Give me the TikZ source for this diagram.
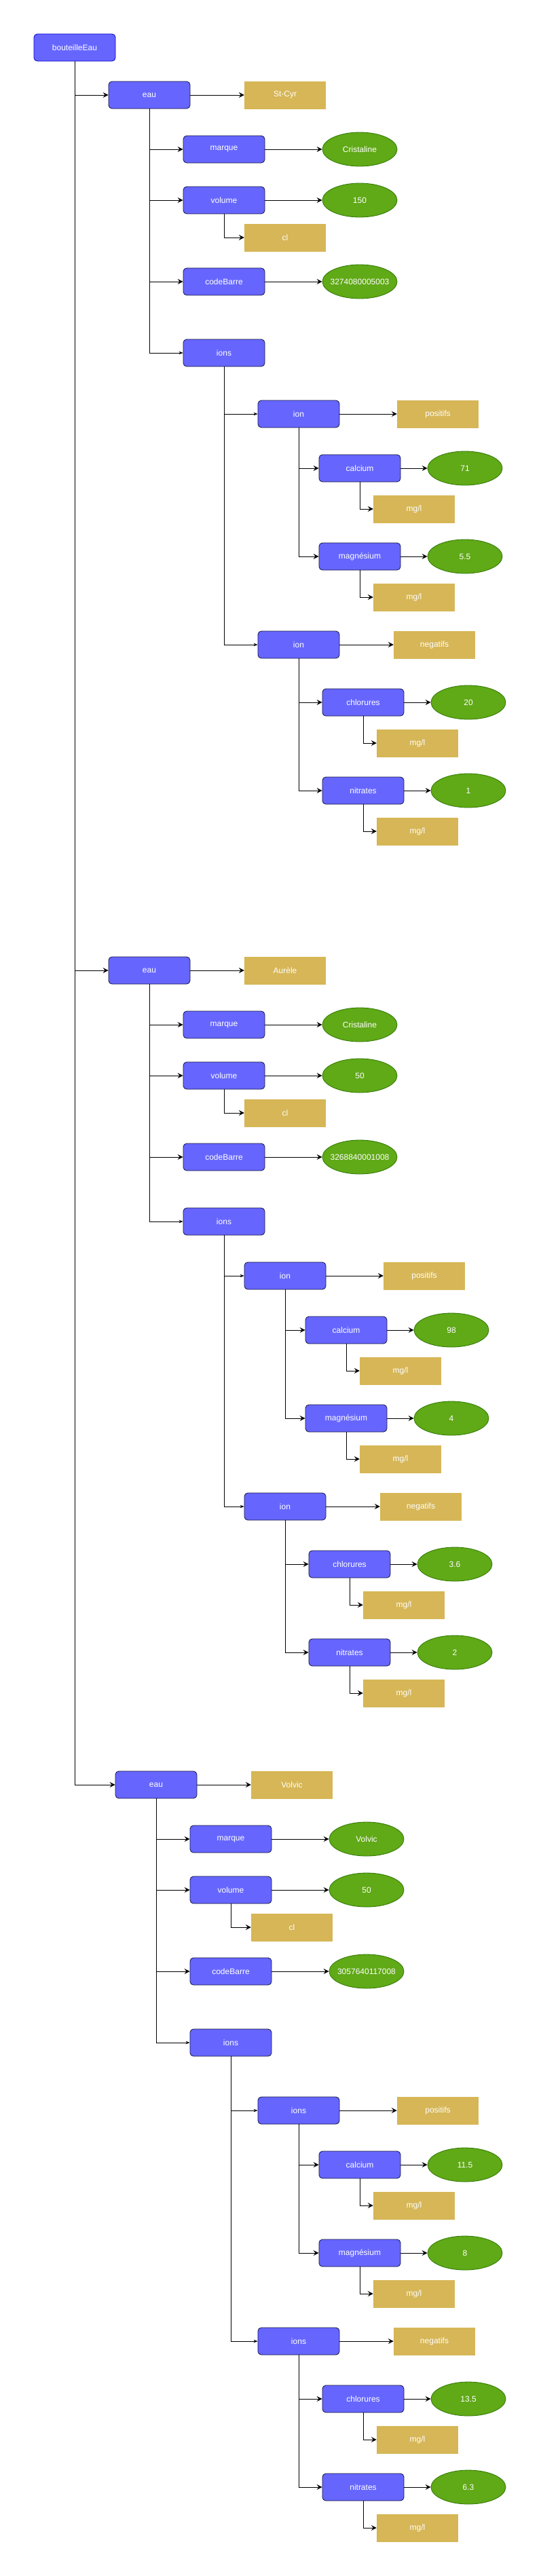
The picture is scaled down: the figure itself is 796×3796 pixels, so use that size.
\documentclass[tikz,border=0pt]{standalone}
\usepackage{fontspec}
\setmainfont{Liberation Sans}
\usetikzlibrary{shapes.geometric,arrows.meta}
\newcommand\EllTxt[1]{\makebox[0pt]{#1}}
\definecolor{blufill}{HTML}{6666FF}
\definecolor{bludraw}{HTML}{14143C}
\definecolor{rootdraw}{HTML}{0000CC}
\definecolor{goldfill}{HTML}{D6B656}
\definecolor{grnfill}{HTML}{60A917}
\definecolor{grndraw}{HTML}{2D7600}
\newcommand\GrpEdges[1]{%
 \draw[arr] (root.south) |- (eau#1.west);
 \draw[arr] (eau#1.east) -- (nom#1.west);
 \draw[arr] (eau#1.south) |- (marq#1.west);
 \draw[arr] (marq#1.east) -- (marqv#1.west);
 \draw[arr] (eau#1.south) |- (vol#1.west);
 \draw[arr] (vol#1.east) -- (volv#1.west);
 \draw[arr] (vol#1.south) |- (cl#1.west);
 \draw[arr] (eau#1.south) |- (code#1.west);
 \draw[arr] (code#1.east) -- (codev#1.west);
 \draw[arrs] (eau#1.south) |- (ions#1.west);
 \draw[arrs] (ions#1.south) |- (ionp#1.west);
 \draw[arr] (ionp#1.east) -- (pos#1.west);
 \draw[arr] (ionp#1.south) |- (ca#1.west);
 \draw[arr] (ca#1.east) -- (cav#1.west);
 \draw[arr] (ca#1.south) |- (caU#1.west);
 \draw[arr] (ionp#1.south) |- (mg#1.west);
 \draw[arr] (mg#1.east) -- (mgv#1.west);
 \draw[arr] (mg#1.south) |- (mgU#1.west);
 \draw[arrs] (ions#1.south) |- (ionn#1.west);
 \draw[arr] (ionn#1.east) -- (neg#1.west);
 \draw[arr] (ionn#1.south) |- (ch#1.west);
 \draw[arr] (ch#1.east) -- (chv#1.west);
 \draw[arr] (ch#1.south) |- (chU#1.west);
 \draw[arr] (ionn#1.south) |- (ni#1.west);
 \draw[arr] (ni#1.east) -- (niv#1.west);
 \draw[arr] (ni#1.south) |- (niU#1.west);
}
\begin{document}
\begin{tikzpicture}[x=1pt,y=-1pt,
 every node/.style={font=\fontsize{12}{14}\selectfont, text=white, inner sep=0pt},
 blu/.style={rectangle, rounded corners=5pt, fill=blufill, draw=bludraw, line width=0.8pt, minimum width=120pt, minimum height=40pt},
 rootbox/.style={blu, draw=rootdraw},
 gold/.style={rectangle, fill=goldfill, minimum width=120pt, minimum height=41pt},
 ell/.style={ellipse, fill=grnfill, draw=grndraw, line width=0.8pt, minimum width=110pt, minimum height=50pt},
 arr/.style={-{Stealth[length=8pt,width=8pt,inset=3pt]}, line width=1pt},
 arrs/.style={-{Stealth[length=6pt,width=4.5pt,inset=2pt]}, line width=0.8pt}]
\useasboundingbox (0,0) rectangle (796,3796);
\fill[white] (0,0) rectangle (796,3796);

\node[rootbox] (root) at (110,70) {bouteilleEau};

% ---- group 1
\node[blu] (eauA) at (220,140) {eau};
\node[gold] (nomA) at (420,140) {St-Cyr};
\node[blu] (marqA) at (330,220) {marque};
\node[ell] (marqvA) at (530,220) {\EllTxt{Cristaline}};
\node[blu] (volA) at (330,295) {volume};
\node[ell] (volvA) at (530,295) {\EllTxt{150}};
\node[gold] (clA) at (420,350) {cl};
\node[blu] (codeA) at (330,415) {codeBarre};
\node[ell] (codevA) at (530,415) {\EllTxt{3274080005003}};
\node[blu] (ionsA) at (330,520) {ions};
\node[blu] (ionpA) at (440,610) {ion};
\node[gold] (posA) at (645,610) {positifs};
\node[blu] (caA) at (530,690) {calcium};
\node[ell] (cavA) at (685,690) {\EllTxt{71}};
\node[gold] (caUA) at (610,750) {mg/l};
\node[blu] (mgA) at (530,820) {magnésium};
\node[ell] (mgvA) at (685,820) {\EllTxt{5.5}};
\node[gold] (mgUA) at (610,880) {mg/l};
\node[blu] (ionnA) at (440,950) {ion};
\node[gold] (negA) at (640,950) {negatifs};
\node[blu] (chA) at (535,1035) {chlorures};
\node[ell] (chvA) at (690,1035) {\EllTxt{20}};
\node[gold] (chUA) at (615,1095) {mg/l};
\node[blu] (niA) at (535,1165) {nitrates};
\node[ell] (nivA) at (690,1165) {\EllTxt{1}};
\node[gold] (niUA) at (615,1225) {mg/l};

% ---- group 2
\node[blu] (eauB) at (220,1430) {eau};
\node[gold] (nomB) at (420,1430) {Aurèle};
\node[blu] (marqB) at (330,1510) {marque};
\node[ell] (marqvB) at (530,1510) {\EllTxt{Cristaline}};
\node[blu] (volB) at (330,1585) {volume};
\node[ell] (volvB) at (530,1585) {\EllTxt{50}};
\node[gold] (clB) at (420,1640) {cl};
\node[blu] (codeB) at (330,1705) {codeBarre};
\node[ell] (codevB) at (530,1705) {\EllTxt{3268840001008}};
\node[blu] (ionsB) at (330,1800) {ions};
\node[blu] (ionpB) at (420,1880) {ion};
\node[gold] (posB) at (625,1880) {positifs};
\node[blu] (caB) at (510,1960) {calcium};
\node[ell] (cavB) at (665,1960) {\EllTxt{98}};
\node[gold] (caUB) at (590,2020) {mg/l};
\node[blu] (mgB) at (510,2090) {magnésium};
\node[ell] (mgvB) at (665,2090) {\EllTxt{4}};
\node[gold] (mgUB) at (590,2150) {mg/l};
\node[blu] (ionnB) at (420,2220) {ion};
\node[gold] (negB) at (620,2220) {negatifs};
\node[blu] (chB) at (515,2305) {chlorures};
\node[ell] (chvB) at (670,2305) {\EllTxt{3.6}};
\node[gold] (chUB) at (595,2365) {mg/l};
\node[blu] (niB) at (515,2435) {nitrates};
\node[ell] (nivB) at (670,2435) {\EllTxt{2}};
\node[gold] (niUB) at (595,2495) {mg/l};

% ---- group 3
\node[blu] (eauC) at (230,2630) {eau};
\node[gold] (nomC) at (430,2630) {Volvic};
\node[blu] (marqC) at (340,2710) {marque};
\node[ell] (marqvC) at (540,2710) {\EllTxt{Volvic}};
\node[blu] (volC) at (340,2785) {volume};
\node[ell] (volvC) at (540,2785) {\EllTxt{50}};
\node[gold] (clC) at (430,2840) {cl};
\node[blu] (codeC) at (340,2905) {codeBarre};
\node[ell] (codevC) at (540,2905) {\EllTxt{3057640117008}};
\node[blu] (ionsC) at (340,3010) {ions};
\node[blu] (ionpC) at (440,3110) {ions};
\node[gold] (posC) at (645,3110) {positifs};
\node[blu] (caC) at (530,3190) {calcium};
\node[ell] (cavC) at (685,3190) {\EllTxt{11.5}};
\node[gold] (caUC) at (610,3250) {mg/l};
\node[blu] (mgC) at (530,3320) {magnésium};
\node[ell] (mgvC) at (685,3320) {\EllTxt{8}};
\node[gold] (mgUC) at (610,3380) {mg/l};
\node[blu] (ionnC) at (440,3450) {ions};
\node[gold] (negC) at (640,3450) {negatifs};
\node[blu] (chC) at (535,3535) {chlorures};
\node[ell] (chvC) at (690,3535) {\EllTxt{13.5}};
\node[gold] (chUC) at (615,3595) {mg/l};
\node[blu] (niC) at (535,3665) {nitrates};
\node[ell] (nivC) at (690,3665) {\EllTxt{6.3}};
\node[gold] (niUC) at (615,3725) {mg/l};

\GrpEdges{A}
\GrpEdges{B}
\GrpEdges{C}
\end{tikzpicture}
\end{document}
